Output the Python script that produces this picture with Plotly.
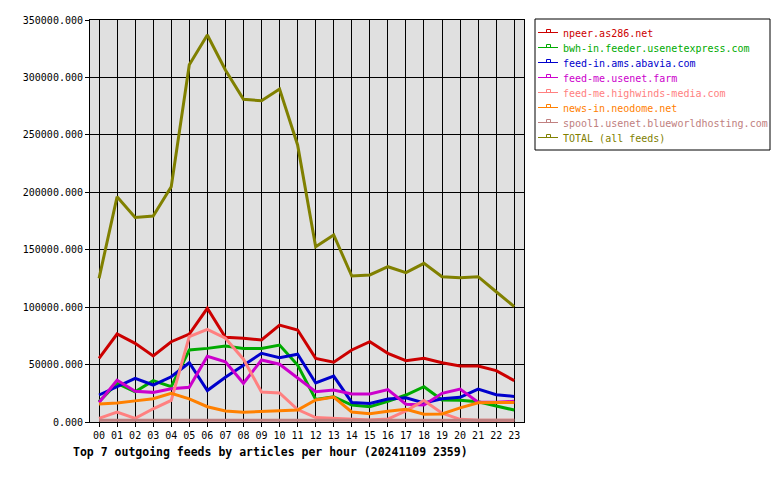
import plotly.graph_objects as go

hours = ["00", "01", "02", "03", "04", "05", "06", "07", "08", "09", "10", "11",
         "12", "13", "14", "15", "16", "17", "18", "19", "20", "21", "22", "23"]

npeer = [55400, 76600, 68500, 57500, 69900, 76600, 99000, 73700, 72900, 71400, 84400, 80100,
         55400, 52000, 62700, 69900, 59800, 53400, 55400, 51600, 48800, 48800, 44700, 36000]
bwh = [17700, 33700, 26400, 36000, 30700, 62700, 64100, 66200, 64100, 64100, 67000, 49600,
       19700, 22000, 14800, 13300, 18000, 23500, 30700, 19200, 19000, 17700, 13900, 10400]
abavia = [23500, 30700, 38000, 32200, 39400, 51600, 27400, 39000, 49600, 59800, 56000, 59000,
          34000, 40000, 17000, 16200, 20000, 21000, 16500, 20300, 21500, 28600, 23800, 22300]
usenetfarm = [17000, 36300, 26700, 25800, 28900, 30200, 57200, 52500, 33700, 54000, 50300, 38700,
              26400, 27900, 24400, 24400, 28200, 15500, 14800, 25000, 28600, 17200, 17200, 18000]
highwinds = [3200, 8700, 3200, 11500, 18800, 74300, 80700, 72900, 54700, 26100, 25300, 10800,
             3900, 3300, 2600, 1800, 2600, 9700, 18700, 7600, 2300, 1500, 1500, 1500]
neodome = [15700, 16500, 18400, 20300, 25000, 20200, 13300, 9600, 8500, 9000, 10100, 10400,
           19200, 21700, 8700, 7300, 9300, 11100, 6800, 7000, 12300, 16800, 17000, 17000]
spool1 = [1500, 1500, 1500, 1500, 1500, 1500, 1500, 1500, 1500, 1500, 1500, 1500,
          1500, 1500, 1500, 1500, 1500, 1500, 1500, 1500, 1500, 1500, 1500, 1500]
total = [125100, 196100, 178000, 179300, 204800, 311000, 336900, 306500, 280900, 279700, 289900, 241200,
         152600, 162800, 127100, 128000, 135200, 130000, 138100, 126500, 125600, 126500, 113400, 100400]

names = ["npeer.as286.net", "bwh-in.feeder.usenetexpress.com", "feed-in.ams.abavia.com",
         "feed-me.usenet.farm", "feed-me.highwinds-media.com", "news-in.neodome.net",
         "spool1.usenet.blueworldhosting.com", "TOTAL (all feeds)"]
colors = ["#cc0000", "#00aa00", "#0000cc", "#cc00cc", "#ff8080", "#ff8000", "#c08080", "#808000"]
series = [npeer, bwh, abavia, usenetfarm, highwinds, neodome, spool1, total]
yticks = [0, 50000, 100000, 150000, 200000, 250000, 300000, 350000]
title = "Top 7 outgoing feeds by articles per hour (20241109 2359)"

W, H = 780, 480
L, R, T, B = 90, 524, 20, 422
FONT = "DejaVu Sans Mono"


def px(x):
    return (x - L) / (R - L)


def py(y):
    return (B - y) / (B - T)


fig = go.Figure()
for name, col, vals in zip(names, colors, series):
    fig.add_trace(go.Scatter(x=hours, y=vals, mode="lines", name=name,
                             line=dict(color=col, width=3), showlegend=False))

shapes = []
annotations = []
# legend box
shapes.append(dict(type="rect", xref="paper", yref="paper", x0=px(535), x1=px(770),
                   y0=py(150), y1=py(19), line=dict(color="black", width=1),
                   fillcolor="white", layer="below"))
for i, (name, col) in enumerate(zip(names, colors)):
    yc = 32.5 + 15 * i
    shapes.append(dict(type="line", xref="paper", yref="paper", x0=px(538), x1=px(558),
                       y0=py(yc), y1=py(yc), line=dict(color=col, width=1)))
    shapes.append(dict(type="rect", xref="paper", yref="paper", x0=px(546.5), x1=px(550.5),
                       y0=py(yc), y1=py(yc - 3), line=dict(color=col, width=1)))
    annotations.append(dict(xref="paper", yref="paper", x=px(560.5), y=py(yc + 0.5),
                            xanchor="left", yanchor="middle", showarrow=False, text=name,
                            font=dict(family=FONT, size=10, color=col)))

annotations.append(dict(xref="paper", yref="paper", x=px(71), y=py(452), xanchor="left",
                        yanchor="middle", showarrow=False, text="<b>" + title + "</b>",
                        font=dict(family=FONT, size=11.5, color="black")))

fig.update_layout(
    width=W, height=H,
    margin=dict(l=L, r=W - R, t=T, b=H - B, pad=0),
    paper_bgcolor="white", plot_bgcolor="#e0e0e0",
    font=dict(family=FONT, size=10, color="black"),
    showlegend=False,
    shapes=shapes, annotations=annotations,
)
fig.update_xaxes(type="category", range=[-0.5, 23.54], showgrid=True, gridcolor="black",
                 gridwidth=1, showline=True, linecolor="black", linewidth=1, mirror=True,
                 ticks="outside", ticklen=4, tickcolor="black", tickangle=0,
                 tickfont=dict(family=FONT, size=10, color="black"))
fig.update_yaxes(range=[0, 350000], tickvals=yticks, tickformat=".3f", showgrid=True,
                 gridcolor="black", gridwidth=1, zeroline=False, showline=True,
                 linecolor="black", linewidth=1, mirror=True, ticks="outside", ticklen=4,
                 tickcolor="black", tickfont=dict(family=FONT, size=10, color="black"))

fig.write_html("out.html")
